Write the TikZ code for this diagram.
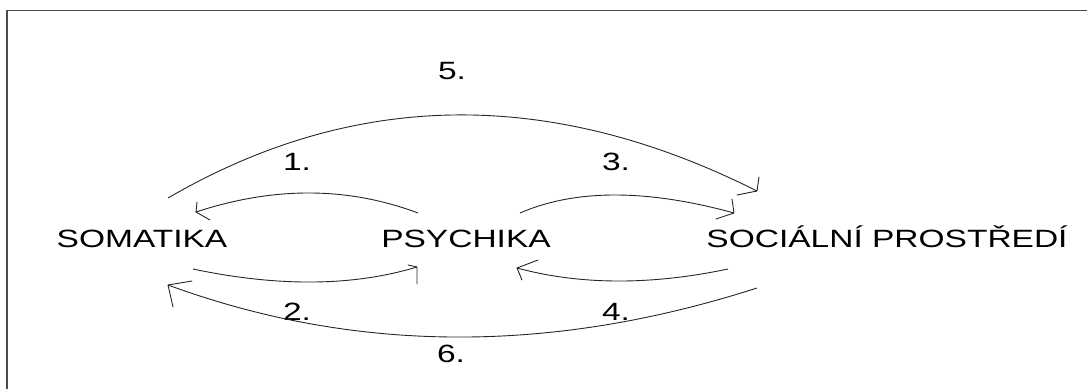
\documentclass[tikz,border=0pt]{standalone}
\usepackage{fontspec}
\setmainfont{Liberation Sans}
\usetikzlibrary{calc}
% wide letters, as in the original drawing
\newcommand\widetxt[1]{\scalebox{1.34}[1]{#1}}
\tikzset{
  lbl/.style={anchor=base, inner sep=0pt, font=\fontsize{25}{30}\selectfont},
  arcline/.style={line width=0.9pt, black!85},
  barbline/.style={line width=0.9pt, black!85, line cap=round},
  frameline/.style={line width=1.6pt, black!70}
}
\begin{document}
\begin{tikzpicture}[x=1pt,y=-1pt]
\useasboundingbox (0,0) rectangle (1087,389);
% frame (top and left edges)
\draw[frameline] (7,389) -- (7,10.5) -- (1087,10.5);

% the three parts
\node[lbl] (som) at (142,247) {\widetxt{SOMATIKA}};
\node[lbl] (psy) at (466,247) {\widetxt{PSYCHIKA}};
\node[lbl] (soc) at (887,247) {\widetxt{SOCIÁLNÍ PROSTŘEDÍ}};

% numbers of the relations
\node[lbl] (n5) at (452,79)  {\widetxt{5.}};
\node[lbl] (n1) at (297,170) {\widetxt{1.}};
\node[lbl] (n3) at (616,170) {\widetxt{3.}};
\node[lbl] (n2) at (297,320) {\widetxt{2.}};
\node[lbl] (n4) at (616,320) {\widetxt{4.}};
\node[lbl] (n6) at (451,362) {\widetxt{6.}};

% arc end points (s = start, e = arrow tip) and bend points
\coordinate (s5) at (168,198); \coordinate (q5) at (447.5,35.5);  \coordinate (e5) at (757,191);
\coordinate (s1) at (418,213); \coordinate (q1) at (313,173.5);   \coordinate (e1) at (196,212);
\coordinate (s3) at (520,213); \coordinate (q3) at (603,177);     \coordinate (e3) at (734,213);
\coordinate (s2) at (193,269); \coordinate (q2) at (321,296);     \coordinate (e2) at (417,267);
\coordinate (s4) at (728,269); \coordinate (q4) at (611.5,293.5); \coordinate (e4) at (517,268);
\coordinate (s6) at (757,288); \coordinate (q6) at (447.5,387.5); \coordinate (e6) at (168,285);

% arcs
\foreach \k in {5,1,3,2,4,6}{
  \draw[arcline] (s\k) .. controls ($(s\k)!0.667!(q\k)$) and ($(e\k)!0.667!(q\k)$) .. (e\k);
}

% open arrow heads
\draw[barbline] (e5) -- ++(2,-14)  (e5) -- ++(-20,4);
\draw[barbline] (e3) -- ++(-2,-14) (e3) -- ++(-18,6);
\draw[barbline] (e1) -- ++(1,-10)  (e1) -- ++(14,8);
\draw[barbline] (e2) -- ++(-9,-2)  (e2) -- ++(0,17);
\draw[barbline] (e4) -- ++(21,-8)  (e4) -- ++(5,12);
\draw[barbline] (e6) -- ++(24,-4)  (e6) -- ++(5,22);
\end{tikzpicture}
\end{document}
